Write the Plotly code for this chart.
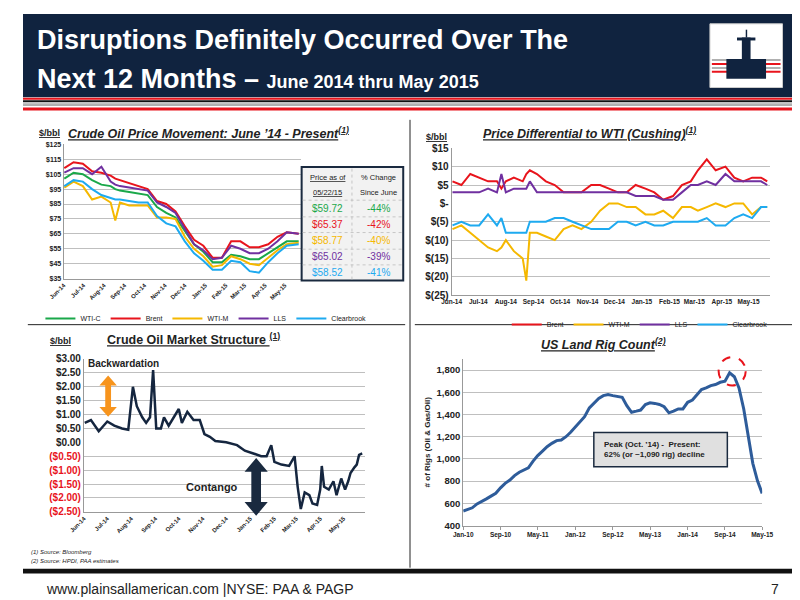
import plotly.graph_objects as go

# ---------------- DATA ----------------
c1_dates = ["2014-06-02","2014-06-16","2014-06-30","2014-07-14","2014-07-28","2014-08-11","2014-08-18","2014-08-25",
            "2014-09-08","2014-09-22","2014-10-06","2014-10-20","2014-11-03","2014-11-17","2014-12-01","2014-12-15",
            "2014-12-29","2015-01-12","2015-01-26","2015-02-09","2015-02-23","2015-03-09","2015-03-23","2015-04-06",
            "2015-04-20","2015-05-04","2015-05-22"]
wti_c = [102,106,105,101,98,97,95,94,93,92,91,83,79,76,67,58,53,46,46,51,50,48,48,52,56,60,60]
brent = [109,113,112,107,106,104,102,101,99,97,95,87,85,80,70,61,57,49,49,60,60,56,56,58,63,66,65]
wti_m = [96,100,97,88,90,86,74,86,84,84,84,76,76,75,63,55,50,43,44,50,48,45,44,49,54,58,59]
lls = [106,109,109,105,110,100,98,97,96,95,94,86,83,79,68,58,54,48,49,57,55,52,52,55,60,66,65]
clearbrook = [97,101,100,95,91,89,88,88,87,86,86,77,72,70,60,52,47,41,41,47,46,40,39,46,52,57,58]
table_prices = ["$59.72","$65.37","$58.77","$65.02","$58.52"]
table_changes = ["-44%","-42%","-40%","-39%","-41%"]

c2_dates = ["2014-06-02","2014-06-12","2014-06-22","2014-07-02","2014-07-12","2014-07-22","2014-07-27","2014-08-01",
            "2014-08-10","2014-08-20","2014-08-24","2014-08-28","2014-09-05","2014-09-15","2014-09-25","2014-10-05",
            "2014-10-15","2014-10-25","2014-11-05","2014-11-15","2014-11-25","2014-12-05","2014-12-15","2014-12-25",
            "2015-01-05","2015-01-15","2015-01-25","2015-02-05","2015-02-15","2015-02-25","2015-03-05","2015-03-15",
            "2015-03-25","2015-04-05","2015-04-15","2015-04-25","2015-05-05","2015-05-15","2015-05-22"]
d_brent = [6,5,8,7,6,6,4,6,7,6,8,9,8,6,5,3,3,3,5,5,4,3,3,5,4,3,1,2,5,6,9,12,9,10,7,6,7,7,6]
d_wtim = [-7,-6,-8,-10,-12,-13,-12,-10,-13,-15,-21,-8,-8,-9,-10,-7,-6,-7,-5,-2,0,0,-1,-1,-3,-3,-2,-4,-1,-1,-2,-1,0,-1,0,0,-3,-1,-1]
d_lls = [3,3,3,3,4,3,8,3,4,4,4,6,3,3,3,3,3,3,3,3,3,3,3,2,2,2,1,1,3,5,5,6,5,8,6,6,6,6,5]
d_clear = [-6,-5,-6,-6,-3,-6,-4,-8,-8,-8,-8,-5,-5,-5,-4,-4,-5,-6,-7,-7,-7,-5,-5,-6,-5,-6,-6,-5,-5,-5,-5,-4,-6,-6,-4,-3,-4,-1,-1]

c3_dates = ["2014-06-02","2014-06-10","2014-06-20","2014-07-01","2014-07-10","2014-07-20","2014-07-28","2014-08-03",
            "2014-08-08","2014-08-15","2014-08-20","2014-08-25","2014-08-29","2014-09-02","2014-09-08","2014-09-12",
            "2014-09-18","2014-09-25","2014-10-01","2014-10-05","2014-10-12","2014-10-20","2014-10-28","2014-11-03",
            "2014-11-10","2014-11-17","2014-12-01","2014-12-15","2014-12-25","2015-01-05","2015-01-15","2015-01-22",
            "2015-01-28","2015-02-01","2015-02-10","2015-02-20","2015-02-27","2015-03-03","2015-03-07","2015-03-12",
            "2015-03-18","2015-03-22","2015-03-28","2015-04-01","2015-04-03","2015-04-06","2015-04-12","2015-04-18",
            "2015-04-22","2015-04-28","2015-05-03","2015-05-07","2015-05-10","2015-05-15","2015-05-18","2015-05-21",
            "2015-05-25"]
structure = [0.7,0.8,0.4,0.75,0.6,0.5,0.45,2.0,1.3,0.9,0.7,0.9,2.6,0.5,0.5,0.9,0.6,0.9,1.2,0.7,1.1,0.8,0.8,0.3,
             0.2,0.05,0.0,-0.1,-0.3,-0.4,-0.5,-0.5,-0.1,-0.7,-0.8,-0.85,-0.5,-1.6,-2.4,-1.8,-1.9,-2.2,-2.25,-1.7,
             -0.85,-1.6,-1.7,-1.4,-1.9,-1.3,-1.7,-1.4,-1.1,-0.9,-0.8,-0.45,-0.4]

rig_months = ["2010-01","2010-02","2010-03","2010-04","2010-05","2010-06","2010-07","2010-08","2010-09","2010-10","2010-11","2010-12",
              "2011-01","2011-02","2011-03","2011-04","2011-05","2011-06","2011-07","2011-08","2011-09","2011-10","2011-11","2011-12",
              "2012-01","2012-02","2012-03","2012-04","2012-05","2012-06","2012-07","2012-08","2012-09","2012-10","2012-11","2012-12",
              "2013-01","2013-02","2013-03","2013-04","2013-05","2013-06","2013-07","2013-08","2013-09","2013-10","2013-11","2013-12",
              "2014-01","2014-02","2014-03","2014-04","2014-05","2014-06","2014-07","2014-08","2014-09","2014-10","2014-11","2014-12",
              "2015-01","2015-02","2015-03","2015-04","2015-05"]
rigs = [530,545,560,595,615,640,665,690,740,780,810,850,
        880,905,920,980,1030,1070,1110,1140,1165,1170,1200,1240,
        1290,1330,1380,1460,1500,1545,1570,1580,1570,1560,1555,1480,
        1420,1430,1440,1490,1505,1500,1490,1470,1415,1430,1450,1450,
        1510,1530,1580,1625,1640,1660,1670,1690,1700,1775,1740,1640,
        1450,1180,960,800,690]

# ---------------- HELPERS ----------------
def X(p): return p / 800
def Y(p): return 1 - p / 600

F = "Liberation Sans"
NAVY = "#10233f"
cols = {"WTI-C": "#1aa84a", "Brent": "#e8141c", "WTI-M": "#f5b800", "LLS": "#7030a0", "Clearbrook": "#1eaaf0"}

fig = go.Figure()
for name, vals in [("WTI-C", wti_c), ("Brent", brent), ("WTI-M", wti_m), ("LLS", lls), ("Clearbrook", clearbrook)]:
    fig.add_trace(go.Scatter(x=c1_dates, y=vals, name=name, mode="lines", line=dict(color=cols[name], width=2),
                             xaxis="x", yaxis="y", legend="legend"))
for name, vals in [("Brent", d_brent), ("WTI-M", d_wtim), ("LLS", d_lls), ("Clearbrook", d_clear)]:
    fig.add_trace(go.Scatter(x=c2_dates, y=vals, name=name, mode="lines", line=dict(color=cols[name], width=2),
                             xaxis="x2", yaxis="y2", legend="legend2"))
fig.add_trace(go.Scatter(x=c3_dates, y=structure, mode="lines", line=dict(color="#15263f", width=2.5),
                         xaxis="x3", yaxis="y3", showlegend=False))
fig.add_trace(go.Scatter(x=rig_months, y=rigs, mode="lines", line=dict(color="#2e5c9a", width=3),
                         xaxis="x4", yaxis="y4", showlegend=False))

def tf(size): return dict(family=F, size=size, color="#222", weight="bold")
grid = "#bfbfbf"
mon1 = ["2014-06-01","2014-07-01","2014-08-01","2014-09-01","2014-10-01","2014-11-01","2014-12-01",
        "2015-01-01","2015-02-01","2015-03-01","2015-04-01","2015-05-01"]
mlab = ["Jun-14","Jul-14","Aug-14","Sep-14","Oct-14","Nov-14","Dec-14","Jan-15","Feb-15","Mar-15","Apr-15","May-15"]

neg_red = lambda s: f"<span style='color:#e8141c'>{s}</span>"
y3vals = [3, 2.5, 2, 1.5, 1, 0.5, 0, -0.5, -1, -1.5, -2, -2.5]
y3text = ["$3.00","$2.50","$2.00","$1.50","$1.00","$0.50","$0.00"] + [neg_red(s) for s in ["($0.50)","($1.00)","($1.50)","($2.00)","($2.50)"]]

fig.update_layout(
    width=800, height=600, margin=dict(l=0, r=0, t=0, b=0),
    paper_bgcolor="white", plot_bgcolor="white",
    font=dict(family=F, color="#222"),
    xaxis=dict(domain=[X(42), X(287)], type="date", range=["2014-06-01", "2015-05-25"], tickvals=mon1, ticktext=mlab,
               tickangle=-45, tickfont=tf(6), showgrid=False, showline=True, linecolor="#999", anchor="y"),
    yaxis=dict(domain=[Y(270), Y(133)], range=[35, 125], tick0=35, dtick=10, tickprefix="$", tickfont=tf(7),
               gridcolor=grid, showline=True, linecolor="#999", anchor="x"),
    xaxis2=dict(domain=[X(443), X(772)], type="date", range=["2014-06-01", "2015-05-25"], tickvals=mon1, ticktext=mlab,
                tickangle=0, tickfont=tf(6.5), showgrid=False, showline=True, linecolor="#999", anchor="y2"),
    yaxis2=dict(domain=[Y(287), Y(137)], range=[-25, 15], tickvals=[15,10,5,0,-5,-10,-15,-20,-25],
                ticktext=["$15","$10","$5","$-","$(5)","$(10)","$(15)","$(20)","$(25)"],
                tickfont=tf(10), gridcolor=grid, showline=True, linecolor="#999", anchor="x2"),
    xaxis3=dict(domain=[X(63), X(353)], type="date", range=["2014-06-01", "2015-05-28"], tickvals=mon1, ticktext=mlab,
                tickangle=-45, tickfont=tf(6), showgrid=False, showline=True, linecolor="#999", anchor="y3"),
    yaxis3=dict(domain=[Y(508), Y(352)], range=[-2.5, 3.0], tickvals=y3vals, ticktext=y3text,
                tickfont=tf(10), gridcolor=grid, showline=True, linecolor="#999", anchor="x3"),
    xaxis4=dict(domain=[X(455), X(764)], type="date", range=["2010-01-01", "2015-05-01"],
                tickvals=["2010-01-01","2010-09-01","2011-05-01","2012-01-01","2012-09-01","2013-05-01","2014-01-01","2014-09-01","2015-05-01"],
                ticktext=["Jan-10","Sep-10","May-11","Jan-12","Sep-12","May-13","Jan-14","Sep-14","May-15"],
                tickfont=tf(6.5), showgrid=False, showline=True, linecolor="#999", anchor="y4", ticks="outside", ticklen=3, tickcolor="#999"),
    yaxis4=dict(domain=[Y(522), Y(352)], range=[400, 1900], tickvals=[400,600,800,1000,1200,1400,1600,1800],
                tickformat=",", tickfont=tf(9.5), gridcolor=grid,
                showline=True, linecolor="#999", anchor="x4",
                title=dict(text="<b># of Rigs (Oil & Gas/Oil)</b>", font=dict(size=8, color="#222"), standoff=4)),
    legend=dict(orientation="h", x=X(18), y=Y(296), xanchor="left", yanchor="top", font=dict(size=7, family=F),
                itemwidth=30, bgcolor="rgba(0,0,0,0)", tracegroupgap=0),
    legend2=dict(orientation="h", x=X(500), y=Y(302), xanchor="left", yanchor="top", font=dict(size=7, family=F),
                 itemwidth=30, bgcolor="rgba(0,0,0,0)"),
)

shapes = []
ann = []
# header
shapes.append(dict(type="rect", xref="paper", yref="paper", x0=0, x1=1, y0=Y(85), y1=1, fillcolor=NAVY, line_width=0, layer="below"))
for (a, b, c) in [(85.5, 87.5, "#e8141c"), (88, 90, "#111"), (91, 94, "#b0b0b0"), (95.5, 98.5, "#e8141c")]:
    shapes.append(dict(type="rect", xref="paper", yref="paper", x0=0, x1=1, y0=Y(b), y1=Y(a), fillcolor=c, line_width=0))
# logo
shapes.append(dict(type="rect", xref="paper", yref="paper", x0=X(710), x1=X(785), y0=Y(75), y1=Y(10), fillcolor="white", line=dict(color="#ccc", width=1)))
for (a, b, c) in [(46, 48, "#b0b0b0"), (50, 52, "#e8141c"), (54, 56, "#b0b0b0"), (58, 60, "#e8141c")]:
    shapes.append(dict(type="rect", xref="paper", yref="paper", x0=X(712), x1=X(783), y0=Y(b), y1=Y(a), fillcolor=c, line_width=0))
shapes.append(dict(type="rect", xref="paper", yref="paper", x0=X(727), x1=X(768), y0=Y(66), y1=Y(46), fillcolor=NAVY, line_width=0))
shapes.append(dict(type="rect", xref="paper", yref="paper", x0=X(743), x1=X(752), y0=Y(46), y1=Y(24), fillcolor=NAVY, line_width=0))
shapes.append(dict(type="rect", xref="paper", yref="paper", x0=X(738), x1=X(757), y0=Y(27), y1=Y(24), fillcolor=NAVY, line_width=0))
shapes.append(dict(type="rect", xref="paper", yref="paper", x0=X(747), x1=X(748.5), y0=Y(24), y1=Y(16), fillcolor=NAVY, line_width=0))
ann.append(dict(text="<b>Disruptions Definitely Occurred Over The</b>", x=X(12), y=Y(27), font=dict(size=27, color="white", family=F)))
ann.append(dict(text="<b>Next 12 Months – </b><b><span style='font-size:18px'>June 2014 thru May 2015</span></b>", x=X(12), y=Y(66),
                font=dict(size=27, color="white", family=F)))
# separators
shapes.append(dict(type="line", xref="paper", yref="paper", x0=X(400), x1=X(400), y0=Y(565), y1=Y(108), line=dict(color="#222", width=1)))
shapes.append(dict(type="line", xref="paper", yref="paper", x0=X(5), x1=X(395), y0=Y(317), y1=Y(317), line=dict(color="#222", width=1)))
shapes.append(dict(type="line", xref="paper", yref="paper", x0=X(405), x1=X(795), y0=Y(317), y1=Y(317), line=dict(color="#222", width=1)))
shapes.append(dict(type="rect", xref="paper", yref="paper", x0=0, x1=1, y0=Y(571), y1=Y(566), fillcolor="#111", line_width=0))

# chart titles
ann.append(dict(text="<b><u>$/bbl</u></b>", x=X(14), y=Y(121), font=dict(size=9)))
ann.append(dict(text="<b><i><u>Crude Oil Price Movement: June ’14 - Present<sup>(1)</sup></u></i></b>", x=X(44), y=Y(121), font=dict(size=12.5)))
ann.append(dict(text="<b><u>$/bbl</u></b>", x=X(414), y=Y(125), font=dict(size=9)))
ann.append(dict(text="<b><i><u>Price Differential to WTI (Cushing)<sup>(1)</sup></u></i></b>", x=X(473), y=Y(121), font=dict(size=12.5)))
ann.append(dict(text="<b><u>$/bbl</u></b>", x=X(26), y=Y(334), font=dict(size=9)))
ann.append(dict(text="<b><u>Crude Oil Market Structure <sup>(1)</sup></u></b>", x=X(85), y=Y(332), font=dict(size=12.5)))
ann.append(dict(text="<b><i><u>US Land Rig Count<sup>(2)</sup></u></i></b>", x=X(533), y=Y(337), font=dict(size=12.5)))

# price table
shapes.append(dict(type="rect", xref="paper", yref="paper", x0=X(288), x1=X(393), y0=Y(272), y1=Y(156), fillcolor="#f2f2f2", line=dict(color="#1a2a3f", width=2)))
shapes.append(dict(type="line", xref="paper", yref="paper", x0=X(340), x1=X(340), y0=Y(271), y1=Y(157), line=dict(color="#bbb", width=0.8, dash="dot")))
for py in [190, 207, 223, 240, 256]:
    shapes.append(dict(type="line", xref="paper", yref="paper", x0=X(289), x1=X(392), y0=Y(py), y1=Y(py), line=dict(color="#bbb", width=0.8, dash="dot")))
ann.append(dict(text="<u>Price as of</u>", x=X(315), y=Y(167), xanchor="center", font=dict(size=7.5)))
ann.append(dict(text="<u>05/22/15</u>", x=X(315), y=Y(182), xanchor="center", font=dict(size=7.5)))
ann.append(dict(text="% Change", x=X(367), y=Y(167), xanchor="center", font=dict(size=7.5)))
ann.append(dict(text="Since June", x=X(367), y=Y(182), xanchor="center", font=dict(size=7.5)))
for i, name in enumerate(["WTI-C", "Brent", "WTI-M", "LLS", "Clearbrook"]):
    py = 198 + i * 16.5
    ann.append(dict(text=table_prices[i], x=X(315), y=Y(py), xanchor="center", font=dict(size=10, color=cols[name])))
    ann.append(dict(text=table_changes[i], x=X(367), y=Y(py), xanchor="center", font=dict(size=10, color=cols[name])))

# market structure annotations
ann.append(dict(text="<b>Backwardation</b>", x=X(65), y=Y(357), font=dict(size=10)))
ann.append(dict(text="<b>Contango</b>", x=X(166), y=Y(483), font=dict(size=11)))
def darrow(cx, top, bot, w, hw, hh, color):
    p = (f"M {X(cx)} {Y(top)} L {X(cx+hw)} {Y(top+hh)} L {X(cx+w)} {Y(top+hh)} L {X(cx+w)} {Y(bot-hh)} "
         f"L {X(cx+hw)} {Y(bot-hh)} L {X(cx)} {Y(bot)} L {X(cx-hw)} {Y(bot-hh)} L {X(cx-w)} {Y(bot-hh)} "
         f"L {X(cx-w)} {Y(top+hh)} L {X(cx-hw)} {Y(top+hh)} Z")
    return dict(type="path", xref="paper", yref="paper", path=p, fillcolor=color, line_width=0)
shapes.append(darrow(88, 369, 411, 3, 9, 10, "#f7941d"))
shapes.append(darrow(241, 453, 512, 5, 12, 14, "#1a2a3f"))

# rig annotations
shapes.append(dict(type="circle", xref="paper", yref="paper", x0=X(719), x1=X(747), y0=Y(379), y1=Y(350), line=dict(color="#e8141c", width=2, dash="dash")))
shapes.append(dict(type="rect", xref="paper", yref="paper", x0=X(590), x1=X(728), y0=Y(462), y1=Y(427), fillcolor="#e0e0e0", line=dict(color="#1a2a3f", width=1.5)))
ann.append(dict(text="<b>Peak (Oct. ’14) -  Present:</b><br><b>62% (or ~1,090 rig) decline</b>", x=X(598), y=Y(444), align="left",
                font=dict(size=8)))

# sources & footer
ann.append(dict(text="<i>(1) Source: Bloomberg</i>", x=X(6), y=Y(549), font=dict(size=6)))
ann.append(dict(text="<i>(2) Source: HPDI, PAA estimates</i>", x=X(6), y=Y(558), font=dict(size=6)))
ann.append(dict(text="www.plainsallamerican.com |NYSE: PAA & PAGP", x=X(22), y=Y(587), font=dict(size=14, color="#222", family=F)))
ann.append(dict(text="7", x=X(783), y=Y(587), xanchor="right", font=dict(size=14, color="#222")))

for a in ann:
    a.setdefault("xref", "paper"); a.setdefault("yref", "paper"); a.setdefault("showarrow", False)
    a.setdefault("xanchor", "left"); a.setdefault("yanchor", "middle")
fig.update_layout(shapes=shapes, annotations=ann)
fig.write_html("out.html")
